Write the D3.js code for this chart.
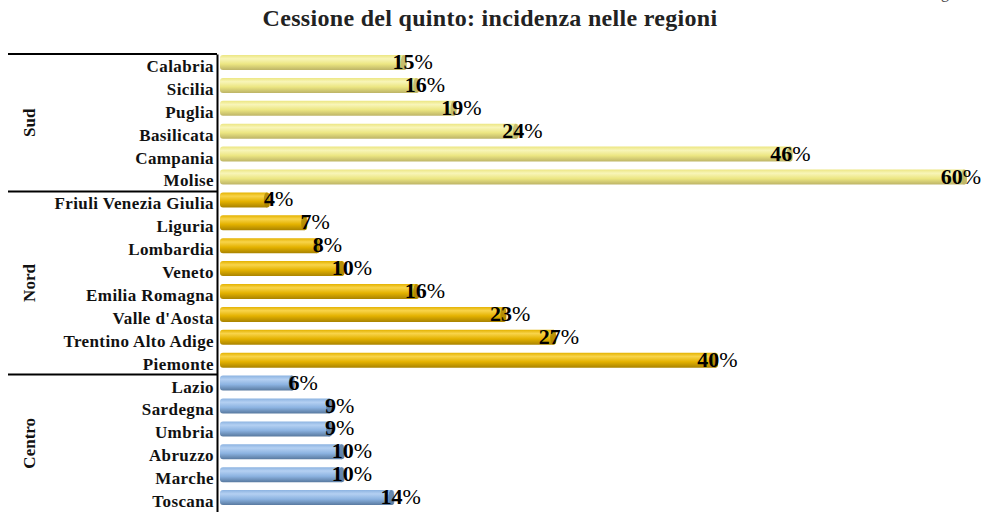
<!DOCTYPE html>
<html>
<head>
<meta charset="utf-8">
<script src="https://cdn.jsdelivr.net/npm/d3@7"></script>
<style>
  body { margin: 0; background: #fff; }
  svg { display: block; font-family: "Liberation Serif", serif; }
</style>
</head>
<body>
<svg id="chart"></svg>
<script>
const width = 984;
const height = 512;

// data
const regions = ["Calabria", "Sicilia", "Puglia", "Basilicata", "Campania", "Molise",
  "Friuli Venezia Giulia", "Liguria", "Lombardia", "Veneto", "Emilia Romagna",
  "Valle d'Aosta", "Trentino Alto Adige", "Piemonte",
  "Lazio", "Sardegna", "Umbria", "Abruzzo", "Marche", "Toscana"];
const values = [15, 16, 19, 24, 46, 60, 4, 7, 8, 10, 16, 23, 27, 40, 6, 9, 9, 10, 10, 14];
const groupNames = ["Sud", "Nord", "Centro"];
const groupCounts = [6, 8, 6];
const groupColors = {
  Sud: ["#f8f5b8", "#ece682", "#bdb467"],
  Nord: ["#f8d44a", "#e4b200", "#a98300"],
  Centro: ["#b4d0f2", "#8cb3e1", "#58799f"]
};

const groupOf = [];
groupNames.forEach((g, i) => { for (let k = 0; k < groupCounts[i]; k++) groupOf.push(g); });

const svg = d3.select("#chart").attr("width", width).attr("height", height);

const defs = svg.append("defs");
groupNames.forEach(g => {
  const c = groupColors[g];
  const grad = defs.append("linearGradient")
    .attr("id", "grad-" + g).attr("x1", 0).attr("y1", 0).attr("x2", 0).attr("y2", 1);
  grad.append("stop").attr("offset", "0%").attr("stop-color", c[1]);
  grad.append("stop").attr("offset", "25%").attr("stop-color", c[0]);
  grad.append("stop").attr("offset", "60%").attr("stop-color", c[1]);
  grad.append("stop").attr("offset", "100%").attr("stop-color", c[2]);
});

const x = d3.scaleLinear().domain([0, 60]).range([220, 967]);
// data labels sit a little off the bar ends, as in the 3D original
const xLabel = d3.scaleLinear().domain([0, 60]).range([230, 961]);
const y = d3.scaleBand().domain(regions).range([54, 512]);

// title
svg.append("text")
   .attr("x", 490).attr("y", 26)
   .attr("text-anchor", "middle")
   .style("font-size", "24px").style("font-weight", "bold")
   .style("letter-spacing", "0.3px")
   .style("fill", "#222")
   .text("Cessione del quinto: incidenza nelle regioni");

// cut-off header glyph at the top edge
svg.append("text")
   .attr("x", 941).attr("y", -2)
   .style("font-size", "16px").style("fill", "#444")
   .text("g");

// bars
const bars = svg.selectAll("g.bar")
   .data(regions)
   .enter()
   .append("g")
   .attr("class", "bar");

bars.append("rect")
   .attr("x", x(0))
   .attr("y", d => y(d) + 1)
   .attr("width", (d, i) => x(values[i]) - x(0))
   .attr("height", 15)
   .attr("rx", 3)
   .attr("fill", (d, i) => `url(#grad-${groupOf[i]})`);

bars.append("ellipse")
   .attr("cx", (d, i) => x(values[i]) - 3)
   .attr("cy", d => y(d) + 8.5)
   .attr("rx", 3)
   .attr("ry", 7.5)
   .attr("fill", (d, i) => groupColors[groupOf[i]][2])
   .attr("opacity", 0.8);

// value labels
const labels = svg.selectAll("text.val")
   .data(regions)
   .enter()
   .append("text")
   .attr("class", "val")
   .attr("x", (d, i) => xLabel(values[i]))
   .attr("y", d => y(d) + 15)
   .attr("text-anchor", "middle")
   .style("font-size", "22px")
   .style("fill", "#000");
labels.append("tspan").style("font-weight", "bold").text((d, i) => values[i]);
labels.append("tspan").text("%");

// category axis
const yAxis = d3.axisLeft(y).tickSize(0).tickPadding(3);
const gy = svg.append("g")
   .attr("transform", "translate(217,0)")
   .call(yAxis);
gy.select(".domain").attr("stroke", "#000").attr("stroke-width", 2);
gy.selectAll(".tick text")
   .style("font-family", "Liberation Serif, serif")
   .style("font-size", "17px")
   .style("font-weight", "bold")
   .style("letter-spacing", "0.4px")
   .attr("fill", "#111")
   .attr("dy", "0.38em");

// group separators and labels
let start = 0;
groupNames.forEach((g, i) => {
  const top = y(regions[start]);
  const end = start + groupCounts[i] - 1;
  const bottom = y(regions[end]) + y.bandwidth();
  svg.append("line")
     .attr("x1", 8).attr("x2", 217)
     .attr("y1", top).attr("y2", top)
     .attr("stroke", "#000").attr("stroke-width", 2);
  svg.append("text")
     .attr("transform", `translate(35,${(top + bottom) / 2}) rotate(-90)`)
     .attr("text-anchor", "middle")
     .style("font-size", "17px").style("font-weight", "bold")
     .style("fill", "#111")
     .text(g);
  start = end + 1;
});
</script>
</body>
</html>
